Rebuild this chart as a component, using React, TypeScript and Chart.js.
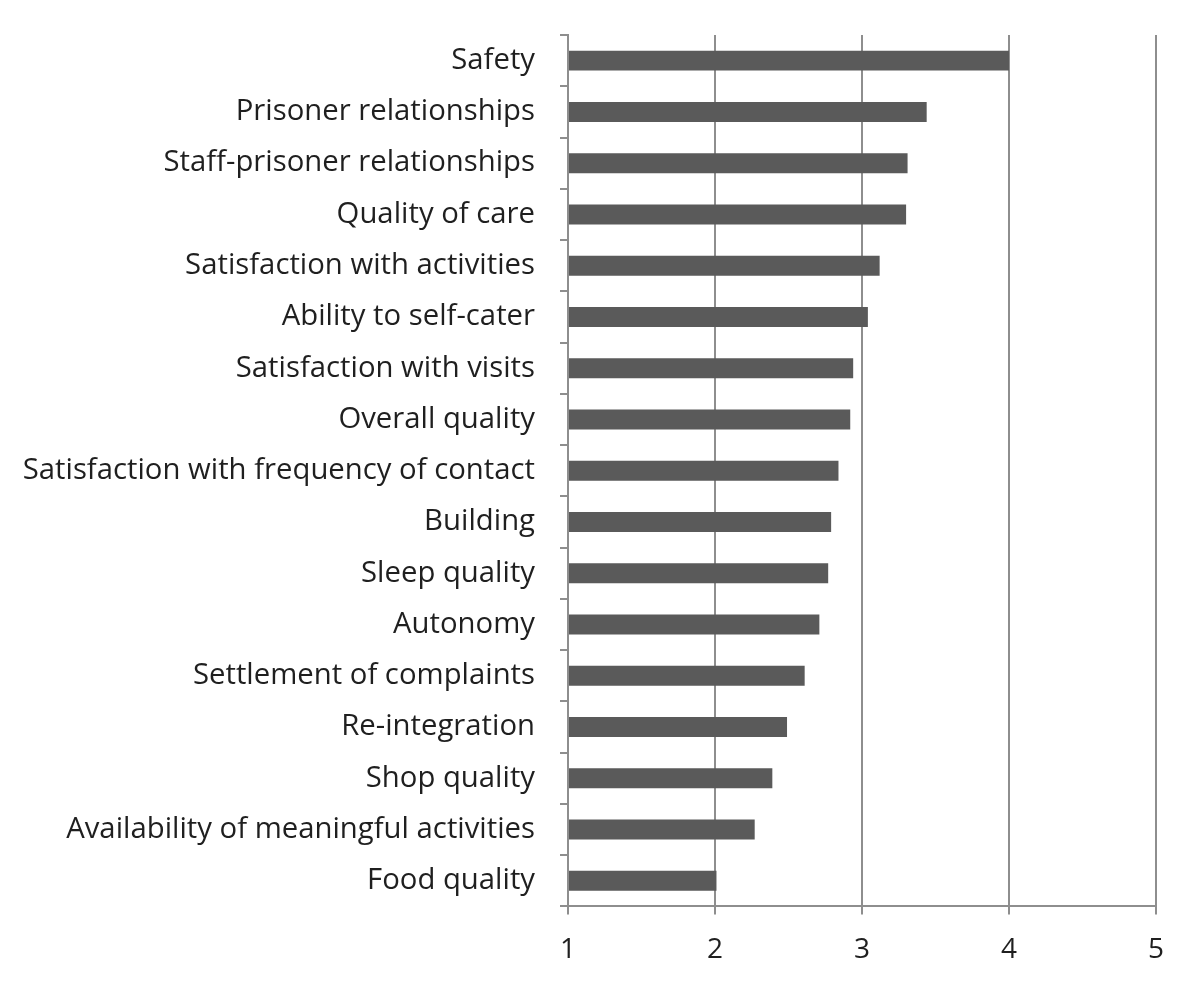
import React, { useEffect, useRef } from "react";
import Chart from "chart.js/auto";

const categories = [
  "Safety",
  "Prisoner relationships",
  "Staff-prisoner relationships",
  "Quality of care",
  "Satisfaction with activities",
  "Ability to self-cater",
  "Satisfaction with visits",
  "Overall quality",
  "Satisfaction with frequency of contact",
  "Building",
  "Sleep quality",
  "Autonomy",
  "Settlement of complaints",
  "Re-integration",
  "Shop quality",
  "Availability of meaningful activities",
  "Food quality",
];

const scores = [
  4.0, 3.44, 3.31, 3.3, 3.12, 3.04, 2.94, 2.92, 2.84, 2.79, 2.77, 2.71, 2.61,
  2.49, 2.39, 2.27, 2.01,
];

const xTicks = [1, 2, 3, 4, 5];

const App: React.FC = () => {
  const chartRef = useRef<HTMLCanvasElement>(null);
  const chartInstance = useRef<Chart | null>(null);

  useEffect(() => {
    document.body.style.margin = "0";
    const ctx = chartRef.current?.getContext("2d");
    if (!ctx) return;
    if (chartInstance.current) chartInstance.current.destroy();

    chartInstance.current = new Chart(ctx, {
      type: "bar",
      data: {
        labels: categories,
        datasets: [
          {
            data: scores,
            backgroundColor: "#5a5a5a",
            borderWidth: 0,
            barPercentage: 0.39,
            categoryPercentage: 1,
            base: 1,
          },
        ],
      },
      options: {
        indexAxis: "y",
        responsive: false,
        animation: false,
        layout: { padding: { top: 35, right: 44, bottom: 4, left: 0 } },
        plugins: {
          legend: { display: false },
          tooltip: { enabled: false },
        },
        scales: {
          x: {
            type: "linear",
            min: 1,
            max: 5,
            afterBuildTicks: (scale: any) => {
              scale.ticks = xTicks.map((v) => ({ value: v }));
            },
            grid: {
              color: "#8e8e8e",
              lineWidth: 2,
              tickLength: 8,
            },
            border: { color: "#8e8e8e", width: 2 },
            ticks: {
              color: "#1f1f1f",
              padding: 19,
              font: { family: "Open Sans", size: 28 },
            },
          },
          y: {
            type: "category",
            offset: true,
            afterFit: (scale: any) => {
              scale.width = 568;
              scale.paddingTop = 0;
              scale.paddingBottom = 0;
            },
            grid: {
              offset: true,
              drawOnChartArea: false,
              color: "#8e8e8e",
              lineWidth: 2,
              tickLength: 8,
            },
            border: { color: "#8e8e8e", width: 2 },
            ticks: {
              color: "#1f1f1f",
              padding: 25,
              autoSkip: false,
              font: { family: "Open Sans", size: 29.3 },
            },
          },
        },
      },
    });

    return () => {
      if (chartInstance.current) {
        chartInstance.current.destroy();
        chartInstance.current = null;
      }
    };
  }, []);

  return (
    <div style={{ width: 1200, height: 990, background: "#fff" }}>
      <canvas ref={chartRef} width={1200} height={990} />
    </div>
  );
};

export default App;
